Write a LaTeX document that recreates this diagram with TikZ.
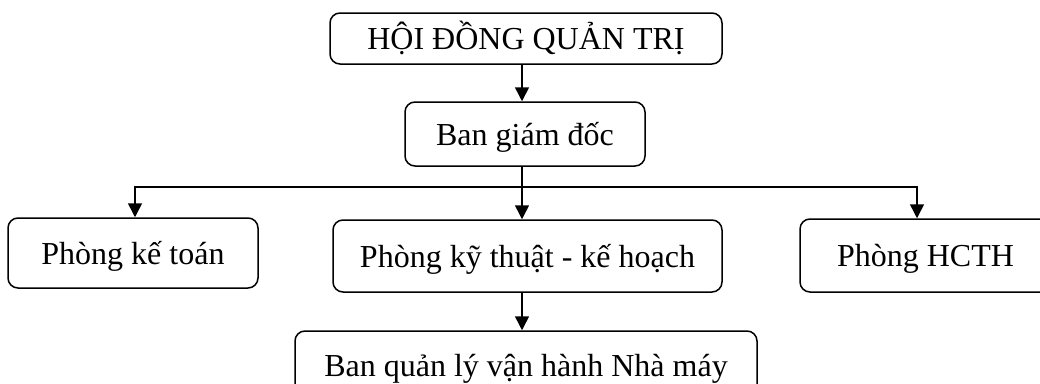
\documentclass[tikz,border=0pt]{standalone}
\usepackage{fontspec}
\setmainfont{Liberation Serif}
\usetikzlibrary{arrows.meta}
\begin{document}
\begin{tikzpicture}[x=1pt,y=-1pt,
  unit/.style={draw, line width=1.5pt, rounded corners=10pt, inner sep=0pt,
    font=\fontsize{32}{38}\selectfont, text height=22pt, text depth=0pt},
  link/.style={line width=1.5pt},
  arr/.style={link, -{Triangle[length=14pt,width=14pt]}}]
  \useasboundingbox (0,0) rectangle (1040,383);
  \clip (0,0) rectangle (1040,383);

  % boxes of the organisation chart
  \node[unit, minimum width=392pt, minimum height=51pt] (hdqt) at (526,38.5) {HỘI ĐỒNG QUẢN TRỊ};
  \node[unit, minimum width=240pt, minimum height=64pt] (bgd) at (525,134) {Ban giám đốc};
  \node[unit, minimum width=250pt, minimum height=70pt] (pkt) at (133,253) {Phòng kế toán};
  \node[unit, minimum width=389pt, minimum height=72pt] (pkh) at (527.5,256) {Phòng kỹ thuật - kế hoạch};
  \node[unit, minimum width=251pt, minimum height=73pt] (hcth) at (925.5,255.5) {Phòng HCTH};
  \node[unit, minimum width=462pt, minimum height=68pt] (bql) at (526,365) {Ban quản lý vận hành Nhà máy};

  % trunk and branch points
  \coordinate (spine) at (522,0);
  \coordinate (bus) at (522,187);
  \coordinate (busL) at (135,187);
  \coordinate (busR) at (917,187);

  % connectors
  \draw[arr] (hdqt.south -| spine) -- (bgd.north -| spine);
  \draw[link] (bgd.south -| spine) -- (bus);
  \draw[arr] (bus) -| (pkt.north -| busL);
  \draw[arr] (bus) -| (hcth.north -| busR);
  \draw[arr] (bus) -- (pkh.north -| bus);
  \draw[arr] (pkh.south -| spine) -- (bql.north -| spine);
\end{tikzpicture}
\end{document}
